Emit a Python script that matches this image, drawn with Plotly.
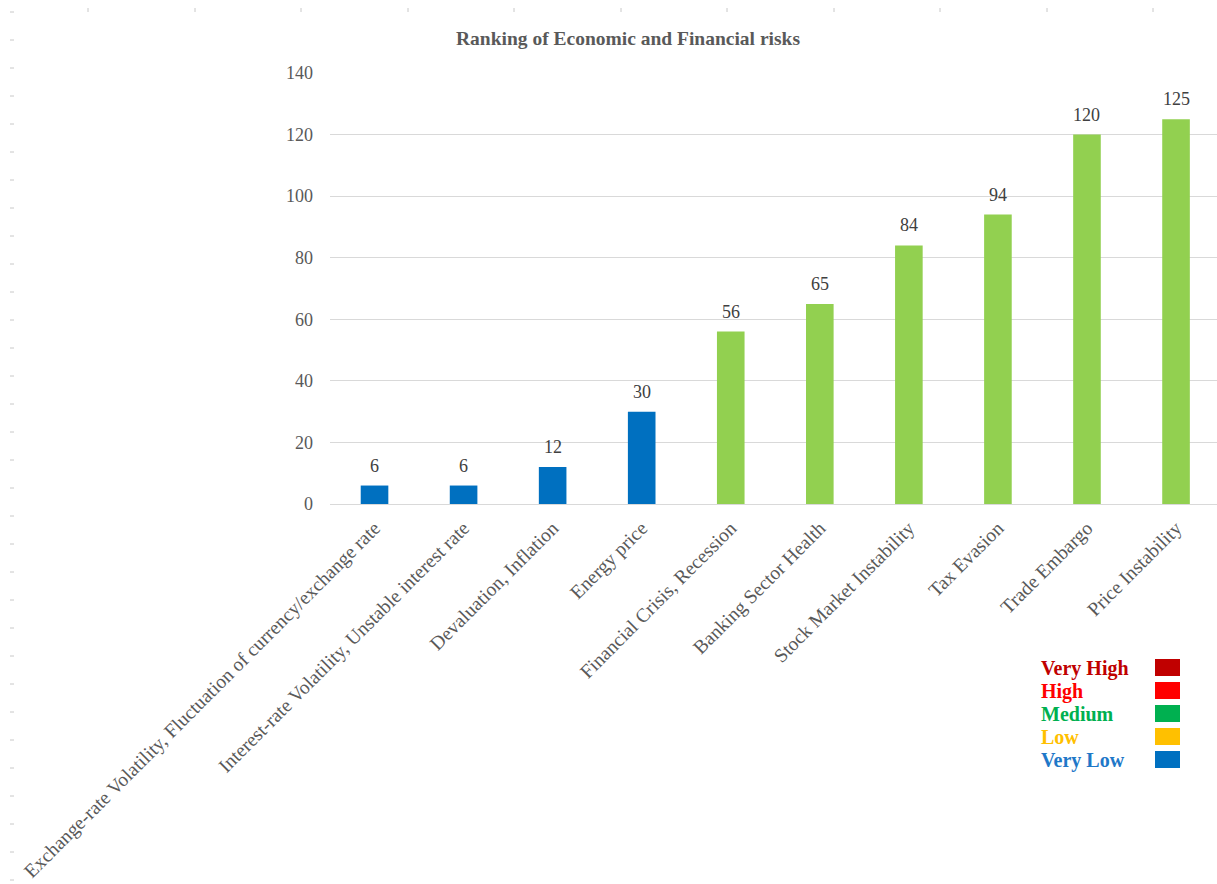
import plotly.graph_objects as go

# Risk categories and their ranking scores
categories = [
    "Exchange-rate Volatility, Fluctuation of currency/exchange rate",
    "Interest-rate Volatility, Unstable interest rate",
    "Devaluation, Inflation",
    "Energy price",
    "Financial Crisis, Recession",
    "Banking Sector Health",
    "Stock Market Instability",
    "Tax Evasion",
    "Trade Embargo",
    "Price Instability",
]
scores = [6, 6, 12, 30, 56, 65, 84, 94, 120, 125]
levels = ["Very Low", "Very Low", "Very Low", "Very Low",
          "Medium", "Medium", "Medium", "Medium", "Medium", "Medium"]

level_names = ["Very High", "High", "Medium", "Low", "Very Low"]
level_text_colors = ["#C00000", "#FF0000", "#00B050", "#FFC000", "#1F78C8"]
level_box_colors = ["#C00000", "#FF0000", "#00B050", "#FFC000", "#0070C0"]
bar_colors_by_level = {"Very Low": "#0070C0", "Medium": "#92D050"}

W, H = 1217, 884
L, R, T, B = 330, 0, 73, 380
pw, ph = W - L - R, H - T - B


def px_x(x):
    return (x - L) / pw


def px_y(y):
    return (H - B - y) / ph


fig = go.Figure()
fig.add_trace(go.Bar(
    x=categories,
    y=scores,
    marker=dict(color=[bar_colors_by_level[l] for l in levels], line=dict(width=0)),
    width=0.31,
    showlegend=False,
    hoverinfo="x+y",
))

shapes = []
annotations = []

# Value labels above each bar
for c, s in zip(categories, scores):
    annotations.append(dict(
        x=c, y=s, xref="x", yref="y", text=str(s), showarrow=False,
        xanchor="center", yanchor="middle", yshift=20,
        font=dict(family="Liberation Serif", size=18, color="#404040"),
    ))

# Legend block: coloured label text with a swatch to its right
row_y = [668, 691, 714, 737, 760]
for name, tc, bc, ry in zip(level_names, level_text_colors, level_box_colors, row_y):
    annotations.append(dict(
        x=px_x(1039), y=px_y(ry), xref="paper", yref="paper",
        text=f"<b>{name}</b>", showarrow=False, xanchor="left", yanchor="middle",
        font=dict(family="Liberation Serif", size=20, color=tc),
    ))
    shapes.append(dict(
        type="rect", xref="paper", yref="paper",
        x0=px_x(1155), x1=px_x(1180), y0=px_y(ry - 9), y1=px_y(ry + 8),
        fillcolor=bc, line=dict(width=0),
    ))

# Faint ruler ticks along the top and left edges of the page
for rx in [88, 195, 301, 408, 514, 621, 727, 834, 940, 1047, 1153]:
    shapes.append(dict(type="line", xref="paper", yref="paper",
                       x0=px_x(rx), x1=px_x(rx), y0=px_y(8), y1=px_y(12),
                       line=dict(color="#C8C8C8", width=1)))
ry = 12
while ry < H:
    shapes.append(dict(type="line", xref="paper", yref="paper",
                       x0=px_x(10), x1=px_x(14), y0=px_y(ry), y1=px_y(ry),
                       line=dict(color="#C8C8C8", width=1)))
    ry += 28

fig.update_layout(
    width=W, height=H,
    margin=dict(l=L, r=R, t=T, b=B, pad=0),
    paper_bgcolor="white", plot_bgcolor="white",
    title=dict(
        text="<b>Ranking of Economic and Financial risks</b>",
        x=px_x(628), xref="paper", xanchor="center",
        y=1 - 38 / H, yanchor="middle",
        font=dict(family="Liberation Serif", size=19.5, color="#595959"),
    ),
    xaxis=dict(
        range=[-0.5, 9.46],
        tickangle=-45,
        tickfont=dict(family="Liberation Serif", size=19.5, color="#595959"),
        showgrid=False, showline=False, ticks="",
        ticklabelstandoff=8,
        automargin=False,
    ),
    yaxis=dict(
        range=[0, 140], dtick=20,
        showgrid=True, gridcolor="#D9D9D9", gridwidth=1,
        zeroline=True, zerolinecolor="#D9D9D9", zerolinewidth=1,
        showline=False, ticks="",
        tickfont=dict(family="Liberation Serif", size=18, color="#595959"),
        ticklabelstandoff=16,
        automargin=False,
    ),
    shapes=shapes,
    annotations=annotations,
)

fig.write_html("out.html")
